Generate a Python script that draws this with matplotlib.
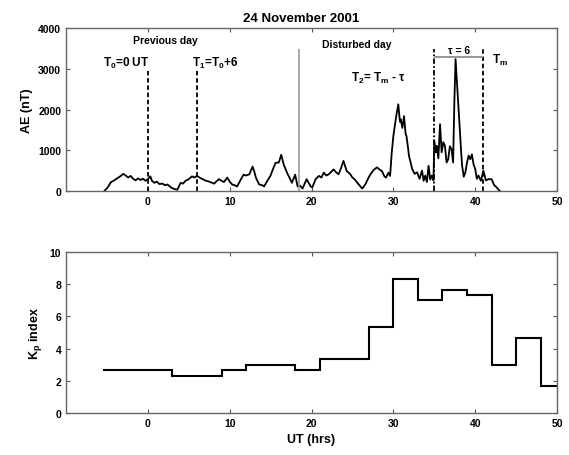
import matplotlib
matplotlib.use('Agg')
from matplotlib import pyplot as plt

plt.rcParams['font.family'] = ['Liberation Sans', 'DejaVu Sans']
plt.rcParams['font.weight'] = 'bold'
plt.rcParams['mathtext.fontset'] = 'custom'
plt.rcParams['mathtext.rm'] = 'Liberation Sans:bold'
plt.rcParams['mathtext.bf'] = 'Liberation Sans:bold'
plt.rcParams['mathtext.default'] = 'bf'

# AE index, hours from start of disturbed day
ae_hours = [-5.3, -4.9, -4.5, -4.2, -3.9, -3.6, -3.3, -3.0, -2.7, -2.4,
            -2.1, -1.8, -1.5, -1.2, -0.9, -0.6, -0.3, 0.0, 0.3, 0.5,
            0.8, 1.1, 1.4, 1.8, 2.1, 2.4, 2.8, 3.2, 3.6, 4.0,
            4.3, 4.6, 5.0, 5.4, 5.7, 6.0, 6.4, 6.7, 7.1, 7.5,
            8.1, 8.4, 8.7, 9.0, 9.3, 9.7, 10.0, 10.3, 10.6, 10.9,
            11.3, 11.7, 12.0, 12.4, 12.8, 13.0, 13.2, 13.6, 14.0, 14.2,
            14.6, 15.0, 15.2, 15.6, 16.0, 16.3, 16.6, 17.0, 17.3, 17.6,
            18.0, 18.3, 18.6, 18.9, 19.1, 19.4, 19.7, 19.9, 20.1, 20.5,
            20.9, 21.2, 21.5, 21.8, 22.1, 22.4, 22.7, 23.0, 23.3, 23.6,
            23.9, 24.3, 24.7, 25.0, 25.3, 25.6, 25.9, 26.2, 26.6, 26.9,
            27.2, 27.6, 28.0, 28.3, 28.6, 28.9, 29.1, 29.4, 29.6, 29.8,
            30.0, 30.2, 30.4, 30.6, 30.8, 30.9, 31.1, 31.3, 31.5, 31.6,
            31.8, 31.9, 32.1, 32.3, 32.6, 32.9, 33.2, 33.5, 33.7, 33.9,
            34.1, 34.3, 34.5, 34.7, 34.9, 35.0, 35.2, 35.3, 35.5, 35.7,
            35.9, 36.1, 36.3, 36.5, 36.7, 36.9, 37.1, 37.3, 37.45, 37.6,
            37.7, 37.8, 38.0, 38.1, 38.3, 38.4, 38.6, 38.8, 39.0, 39.2,
            39.4, 39.6, 39.8, 40.0, 40.2, 40.4, 40.7, 41.0, 41.3, 41.6,
            42.0, 42.3, 42.6, 43.0]
ae_nt = [0, 90, 220, 250, 290, 330, 370, 420, 380, 330,
         370, 300, 260, 310, 270, 300, 250, 290, 360, 250,
         200, 230, 170, 180, 140, 160, 90, 50, 30, 200,
         180, 250, 290, 360, 330, 370, 320, 290, 250, 230,
         180, 240, 290, 250, 220, 330, 230, 160, 140, 110,
         260, 400, 380, 410, 600, 480, 330, 160, 140, 110,
         250, 380, 490, 690, 700, 890, 650, 450, 330, 200,
         400, 110, 130, 60, 150, 290, 180, 110, 90, 290,
         370, 330, 450, 380, 410, 470, 530, 460, 410, 560,
         740, 490, 420, 330, 280, 200, 130, 60, 170, 300,
         410, 520, 580, 530, 490, 360, 330, 450, 370, 940,
         1350, 1640, 1900, 2130, 1700, 1760, 1550, 1840, 1400, 1350,
         1050, 870, 700, 540, 420, 460, 300, 500, 250, 380,
         220, 620, 280, 380, 260, 1230, 950, 1110, 800, 1640,
         950, 1200, 1110, 700, 780, 1100, 1030, 700, 2170, 3240,
         2900, 2580, 1900, 1520, 900, 620, 350, 460, 700, 870,
         780, 900, 650, 540, 300, 380, 250, 500, 260, 290,
         290, 150, 90, 0]

# 3-hourly Kp
kp_edges = [-5.5, 3, 9, 12, 18, 21, 27, 30, 33, 36, 39, 42, 45, 48, 50]
kp_values = [2.67, 2.33, 2.67, 3.0, 2.67, 3.33, 5.33, 8.33, 7.0, 7.67,
             7.33, 3.0, 4.67, 1.67]

t0, t1, day_start, t2, tm = 0, 6, 18.5, 35, 41

fig = plt.figure(figsize=(5.69, 4.56), dpi=100)
ax1 = fig.add_axes([0.116, 0.579, 0.863, 0.357])
ax2 = fig.add_axes([0.116, 0.092, 0.863, 0.353])

for ax in (ax1, ax2):
    ax.tick_params(direction='in', top=True, right=True, length=3,
                   labelsize=7.5, color='#555555', width=0.8)
    for s in ax.spines.values():
        s.set_color('#666666')
        s.set_linewidth(1.0)
    ax.set_xlim(-10, 50)
    ax.set_xticks([0, 10, 20, 30, 40, 50])

ax1.plot(ae_hours, ae_nt, color='black', lw=1.3)
ax1.set_ylim(0, 4000)
ax1.set_yticks([0, 1000, 2000, 3000, 4000])
ax1.vlines([t0, t1], 0, 3000, colors='black', linestyles=(0, (2.5, 1.5)), lw=1.3)
ax1.vlines([tm], 0, 3500, colors='black', linestyles=(0, (2.5, 1.5)), lw=1.3)
ax1.vlines([t2], 0, 3500, colors='black', linestyles=(0, (3, 1.2, 1, 1.2)), lw=1.3)
ax1.vlines([day_start], 0, 3500, colors='#999999', lw=1.2)
ax1.hlines(3300, t2, tm, colors='#999999', lw=1.5)

ax1.text(2.2, 3700, 'Previous day', ha='center', va='center', fontsize=7.5)
ax1.text(21.3, 3620, 'Disturbed day', ha='left', va='center', fontsize=7.5)
ax1.text(0.2, 3150, 'T$_0$=0 UT', ha='right', va='center', fontsize=8.5)
ax1.text(5.4, 3150, 'T$_1$=T$_0$+6', ha='left', va='center', fontsize=8.5)
ax1.text(24.8, 2780, 'T$_2$= T$_m$ - τ', ha='left', va='center', fontsize=8.5)
ax1.text(38.0, 3330, 'τ = 6', ha='center', va='bottom', fontsize=7.5)
ax1.text(42.0, 3240, 'T$_m$', ha='left', va='center', fontsize=8.5)
ax1.set_ylabel('AE (nT)', fontsize=9, fontweight='bold')
ax1.set_title('24 November 2001', fontsize=9.5, fontweight='bold', x=0.479, pad=5)

ax2.stairs(kp_values, kp_edges, color='black', lw=1.5, baseline=None)
ax2.set_ylim(0, 10)
ax2.set_yticks([0, 2, 4, 6, 8, 10])
ax2.set_ylabel('K$_p$ index', fontsize=9, fontweight='bold')
ax2.set_xlabel('UT (hrs)', fontsize=9, fontweight='bold')

fig.savefig('out.png', dpi=100)
